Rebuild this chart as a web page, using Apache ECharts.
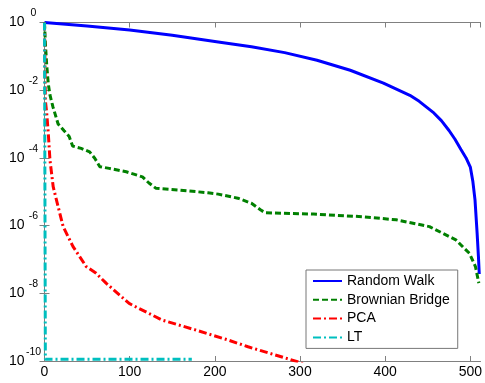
<!DOCTYPE html>
<html>
<head>
<meta charset="utf-8">
<script src="https://cdn.jsdelivr.net/npm/echarts@6/dist/echarts.min.js"></script>
<style>html,body{margin:0;padding:0;background:#fff}#c{width:485px;height:383px}</style>
</head>
<body>
<div id="c"></div>
<script>
var seriesNames = ['Random Walk', 'Brownian Bridge', 'PCA', 'LT'];

var rwX = [0, 50, 100, 150, 204, 243, 282, 320, 359, 398, 429, 440, 456, 466, 475, 482, 489, 495, 500, 503, 505.5, 508, 509.5, 510.5];
var rwY = [1, 0.794, 0.603, 0.417, 0.267, 0.191, 0.129, 0.0767, 0.0389, 0.0162, 0.00708, 0.00468, 0.00226, 0.00126, 6.46e-4, 3.55e-4, 1.78e-4, 1.0e-4, 5.37e-5, 2.0e-5, 5.75e-6, 5.89e-7, 1.26e-7, 3.72e-8];

var bbX = [0, 1, 2.6, 4.4, 6.4, 10, 16, 23, 29, 33, 43, 53, 59, 65, 76, 96, 115, 123, 131, 158, 192, 204, 227, 243, 254, 259, 316, 375, 413, 452, 483, 499, 506, 510];
var bbY = [1, 0.251, 0.055, 0.0158, 0.00724, 0.00316, 0.001, 6.31e-4, 4.27e-4, 2.24e-4, 1.91e-4, 1.51e-4, 9.77e-5, 5.5e-5, 4.9e-5, 3.89e-5, 2.75e-5, 1.78e-5, 1.26e-5, 1.12e-5, 9.33e-6, 8.51e-6, 6.46e-6, 4.57e-6, 2.88e-6, 2.4e-6, 2.19e-6, 1.82e-6, 1.48e-6, 9.33e-7, 3.8e-7, 1.51e-7, 6.17e-8, 2.0e-8];

var pcaX = [0, 1, 2.6, 4.4, 6.4, 10.2, 16, 21.9, 33.5, 49, 60.7, 72.3, 99.4, 138, 177, 215.7, 239, 297, 310];
var pcaY = [1, 0.005, 0.00209, 5.5e-4, 8.71e-5, 1.41e-5, 3.63e-6, 9.33e-7, 2.4e-7, 6.17e-8, 3.89e-8, 2.0e-8, 5.01e-9, 1.62e-9, 8.32e-10, 4.17e-10, 2.63e-10, 9.55e-11, 7.08e-11];

var ltX = [0, 1, 173];
var ltY = [1, 1.12e-10, 1.12e-10];

var xTicks = [0, 100, 200, 300, 400, 500];

function pairs(xs, ys) { return xs.map(function (x, i) { return [x, ys[i]]; }); }

var FONT = 'Liberation Sans, Arial, Helvetica, sans-serif';
var AXC = '#808080';

var chart = echarts.init(document.getElementById('c'), null, { renderer: 'canvas' });

function axisCommon() {
  return {
    axisLine: { show: true, lineStyle: { color: AXC, width: 1 } },
    axisTick: { show: true, inside: true, length: 5, lineStyle: { color: AXC } },
    splitLine: { show: false },
    minorTick: { show: false }
  };
}

var xBottom = Object.assign(axisCommon(), {
  type: 'value', position: 'bottom', min: 0, max: 512, interval: 100,
  axisLabel: {
    show: true, color: '#000', fontSize: 14, fontFamily: FONT, margin: 4,
    showMaxLabel: false,
    formatter: function (v) { return xTicks.indexOf(v) >= 0 ? String(v) : ''; }
  }
});
var xTop = Object.assign(axisCommon(), {
  type: 'value', position: 'top', min: 0, max: 512, interval: 100,
  axisLabel: { show: false }
});
var yLeft = Object.assign(axisCommon(), {
  type: 'log', logBase: 10, position: 'left', min: 1e-10, max: 1, interval: 2,
  axisLabel: {
    show: true, margin: 3, align: 'right',
    formatter: function (v) {
      var e = Math.round(Math.log10(v));
      return '{b|10}{s|' + e + '}';
    },
    rich: {
      b: { fontSize: 14, fontFamily: FONT, color: '#000' },
      s: { fontSize: 10.5, fontFamily: FONT, color: '#000', width: 16, align: 'left', padding: [0, 0, 18, 1] }
    }
  }
});
var yRight = Object.assign(axisCommon(), {
  type: 'log', logBase: 10, position: 'right', min: 1e-10, max: 1, interval: 2,
  axisLabel: { show: false }
});

function lineSeries(name, data, color, type) {
  return {
    name: name, type: 'line', data: data, symbol: 'none', showSymbol: false,
    xAxisIndex: 0, yAxisIndex: 0, clip: true, animation: false,
    lineStyle: { color: color, width: 3, type: type, cap: 'butt' },
    itemStyle: { color: color }
  };
}

chart.setOption({
  animation: false,
  backgroundColor: '#fff',
  grid: { left: 44.5, right: 1, top: 22.5, bottom: 22, containLabel: false },
  xAxis: [xBottom, xTop],
  yAxis: [yLeft, yRight],
  legend: {
    orient: 'vertical', left: 306, top: 270,
    backgroundColor: '#fff', borderColor: '#777', borderWidth: 1, borderRadius: 0,
    padding: [4, 8, 4, 6], itemWidth: 29, itemHeight: 14, itemGap: 4.8,
    itemStyle: { opacity: 0 },
    textStyle: { fontSize: 14, fontFamily: FONT, color: '#000' },
    data: seriesNames
  },
  series: [
    lineSeries(seriesNames[0], pairs(rwX, rwY), '#0000ff', 'solid'),
    lineSeries(seriesNames[1], pairs(bbX, bbY), '#008000', [6, 3]),
    lineSeries(seriesNames[2], pairs(pcaX, pcaY), '#ff0000', [8, 3, 2, 3]),
    lineSeries(seriesNames[3], pairs(ltX, ltY), '#00bfbf', [8, 3, 2, 3])
  ]
});
</script>
</body>
</html>
